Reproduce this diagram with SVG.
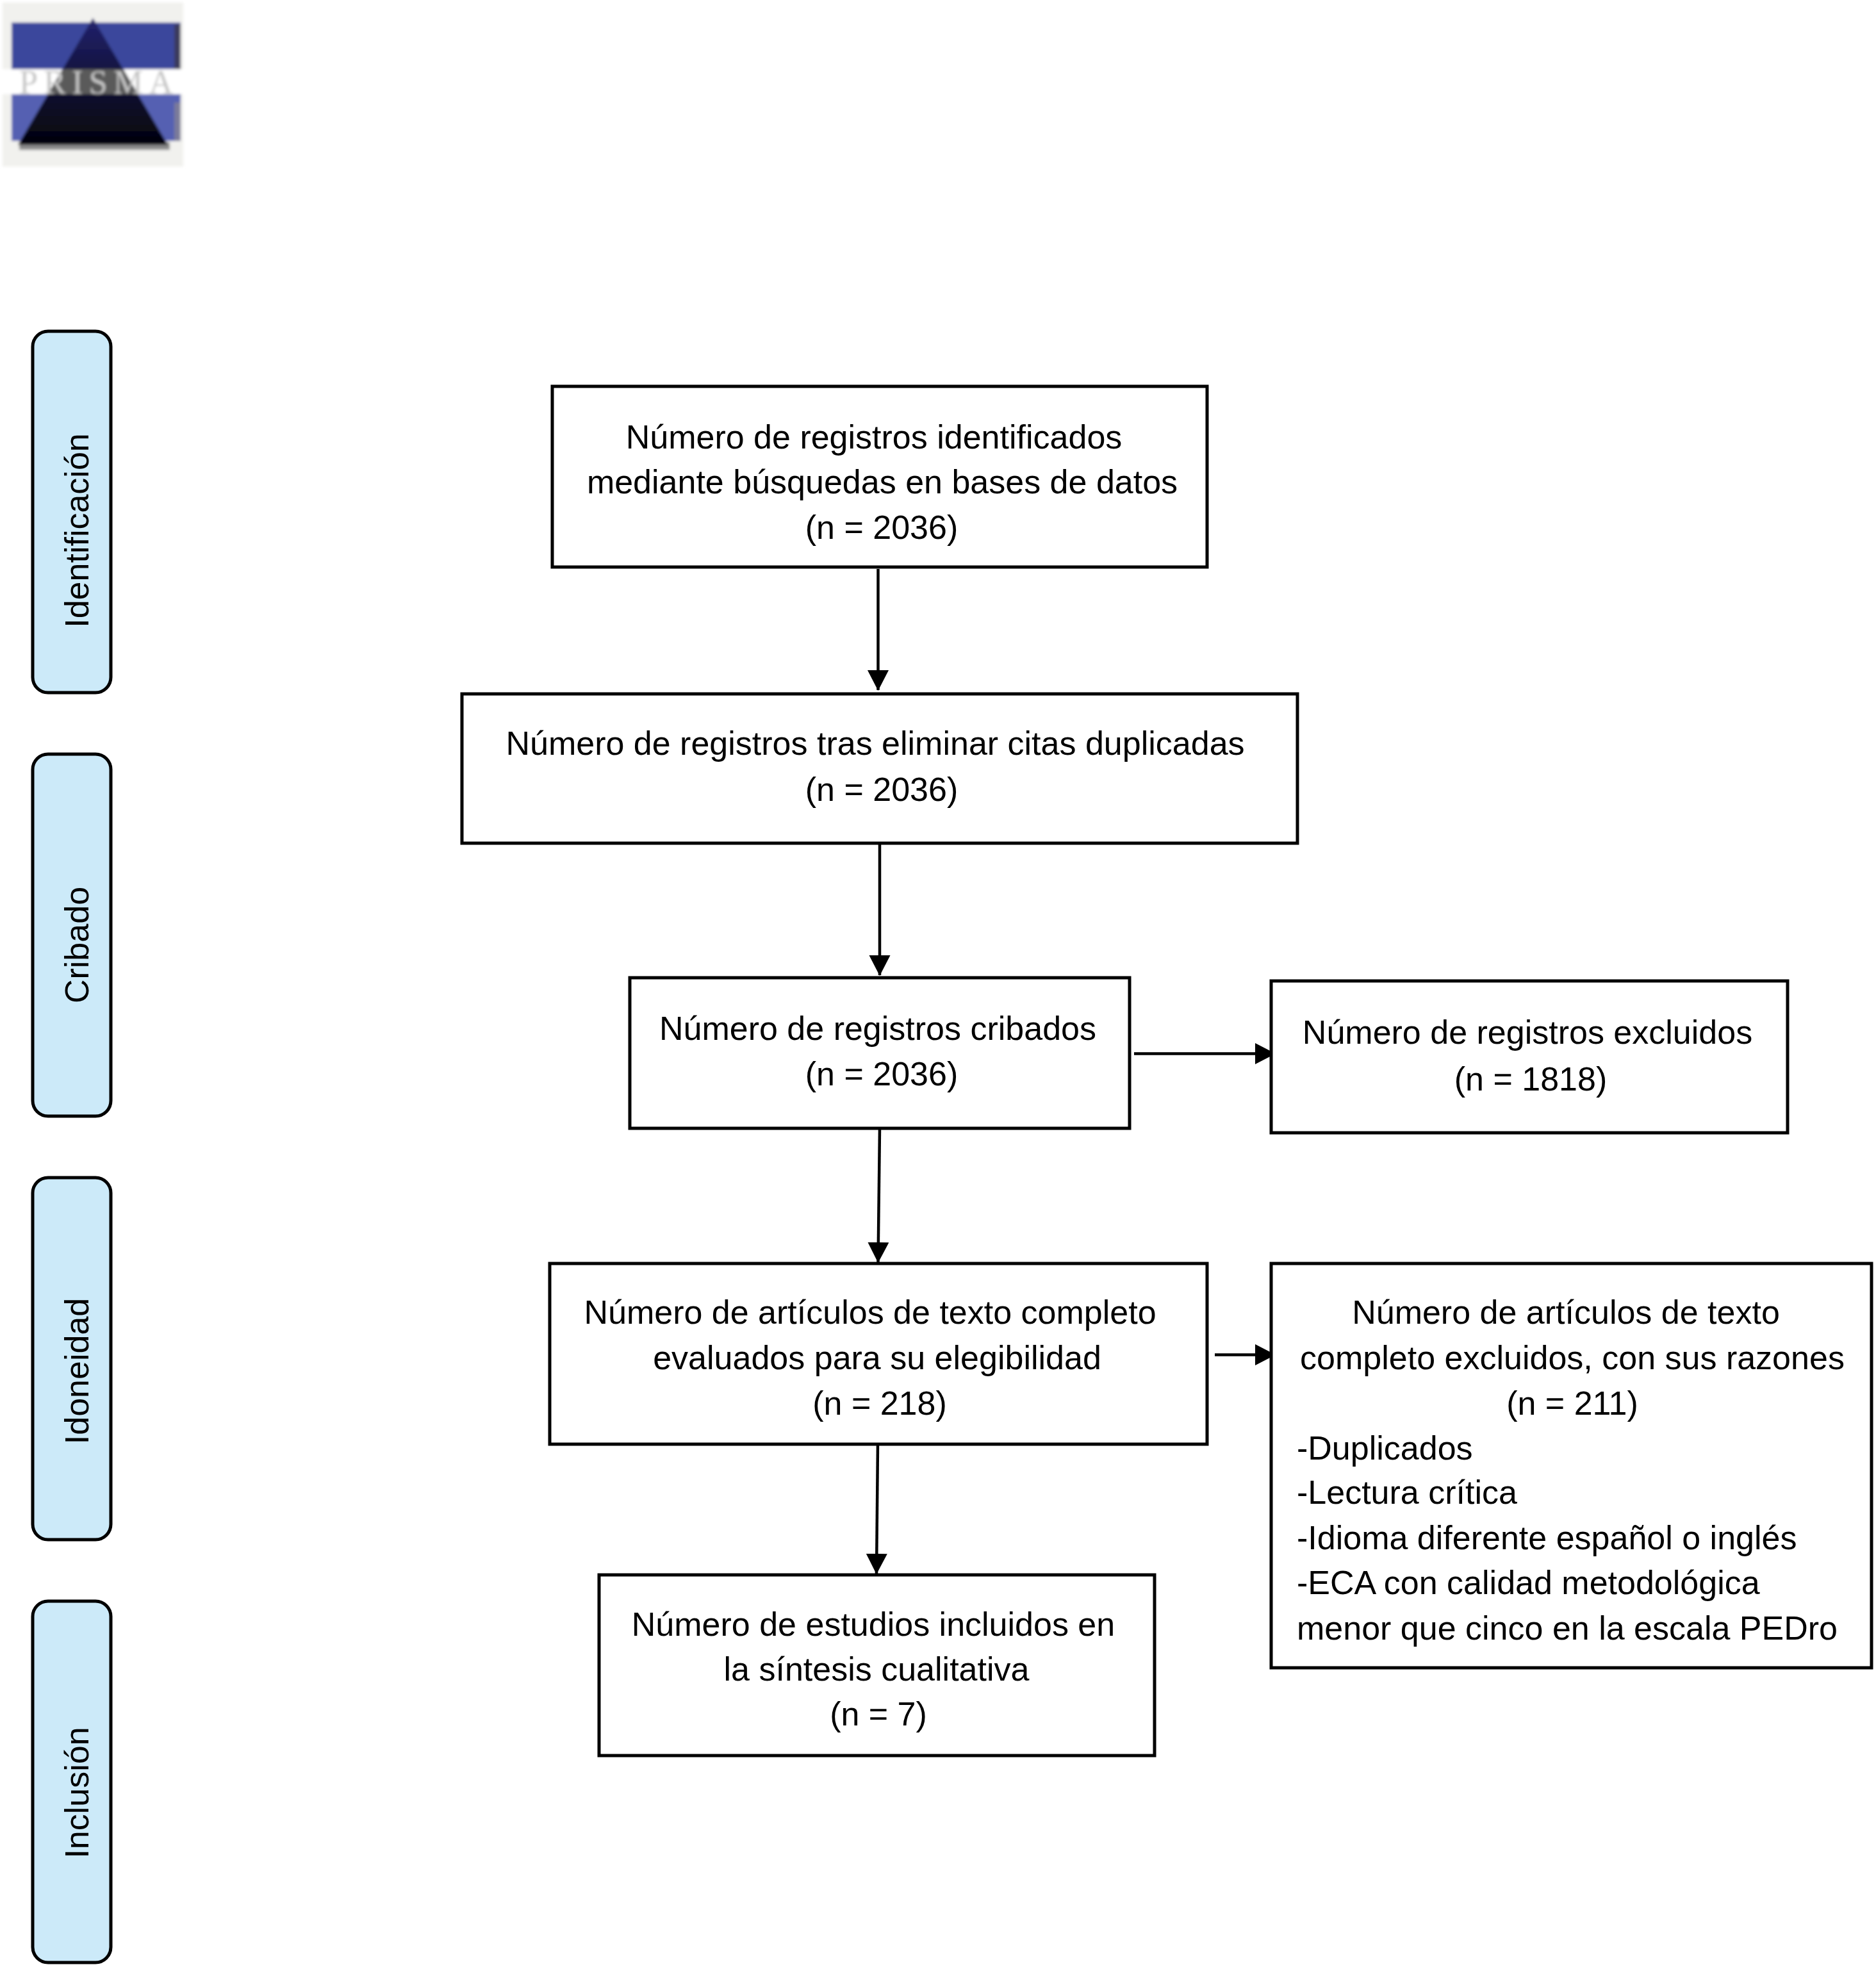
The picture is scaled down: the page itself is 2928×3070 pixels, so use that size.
<svg xmlns="http://www.w3.org/2000/svg" width="2928" height="3070" viewBox="0 0 2928 3070">
<style>
.box{fill:#fff;stroke:#000;stroke-width:5}
.side{fill:#cceaf9;stroke:#000;stroke-width:5}
text{font-family:"Liberation Sans",Arial,sans-serif;fill:#000}
.t{font-size:52px;text-anchor:middle}
.l{font-size:52px}
.s{font-size:52px;text-anchor:middle}
.c{stroke:#000;stroke-width:4.5;fill:none;marker-end:url(#a)}
</style>
<defs>
<marker id="a" markerUnits="userSpaceOnUse" markerWidth="32" markerHeight="34" refX="31" refY="16.5" orient="auto"><path d="M0 0L32 16.5L0 33Z" fill="#000"/></marker>
<linearGradient id="tri" x1="0" y1="0" x2="0" y2="1"><stop offset="0" stop-color="#23236e"/><stop offset="0.45" stop-color="#12123c"/><stop offset="1" stop-color="#04040c"/></linearGradient>
<filter id="b" x="-5%" y="-5%" width="110%" height="110%"><feGaussianBlur stdDeviation="2"/></filter>
<clipPath id="band"><rect x="4" y="108" width="282" height="39"/></clipPath>
</defs>
<rect width="2928" height="3070" fill="#fff"/>
<g id="logo" filter="url(#b)">
<rect x="4" y="4" width="282" height="256" fill="#f1f1ee"/>
<rect x="18" y="35" width="264" height="75" fill="#3b479c"/>
<rect x="272" y="38" width="10" height="72" fill="#3a3a5c"/>
<rect x="4" y="108" width="282" height="39" fill="#fff"/>
<rect x="18" y="147" width="264" height="73" fill="#5560b2"/>
<rect x="272" y="160" width="10" height="60" fill="#7a7a9a"/>
<rect x="30" y="222" width="235" height="12" fill="#8a8a8a"/>
<path d="M145 28L262 226H28Z" fill="url(#tri)"/>
<path d="M145 28L262 226H28Z" fill="#5a5a5a" clip-path="url(#band)"/>
<text x="150" y="146" font-size="52" text-anchor="middle" textLength="240" lengthAdjust="spacing" style="font-family:'Liberation Serif',serif;fill:#c4c4c4">PRISMA</text>
</g>
<g id="sidebars">
<g id="side-identificacion"><rect class="side" x="51" y="517" width="122" height="564" rx="24"/><text class="s" transform="translate(138 828) rotate(-90)">Identificación</text></g>
<g id="side-cribado"><rect class="side" x="51" y="1177" width="122" height="565" rx="24"/><text class="s" transform="translate(138 1475) rotate(-90)">Cribado</text></g>
<g id="side-idoneidad"><rect class="side" x="51" y="1838" width="122" height="565" rx="24"/><text class="s" transform="translate(138 2140) rotate(-90)">Idoneidad</text></g>
<g id="side-inclusion"><rect class="side" x="51" y="2499" width="122" height="564" rx="24"/><text class="s" transform="translate(138 2798) rotate(-90)">Inclusión</text></g>
</g>
<g id="connectors">
<path class="c" d="M1370.5 888V1077"/>
<path class="c" d="M1373 1316V1522"/>
<path class="c" d="M1373 1761L1370.5 1970"/>
<path class="c" d="M1770 1644.5H1990"/>
<path class="c" d="M1896 2114.5H1990"/>
<path class="c" d="M1370 2254L1368 2456"/>
</g>
<g id="n1"><rect class="box" x="862" y="603" width="1022" height="282"/>
<text class="t" x="1364" y="700">Número de registros identificados</text><text class="t" x="1377" y="770">mediante búsquedas en bases de datos</text><text class="t" x="1376" y="841">(n = 2036)</text></g>
<g id="n2"><rect class="box" x="721" y="1083" width="1304" height="233"/>
<text class="t" x="1366" y="1178">Número de registros tras eliminar citas duplicadas</text><text class="t" x="1376" y="1250">(n = 2036)</text></g>
<g id="n3"><rect class="box" x="983" y="1526" width="780" height="235"/>
<text class="t" x="1370" y="1623">Número de registros cribados</text><text class="t" x="1376" y="1694">(n = 2036)</text></g>
<g id="n4"><rect class="box" x="1984" y="1531" width="806" height="237"/>
<text class="t" x="2384" y="1629">Número de registros excluidos</text><text class="t" x="2389" y="1702">(n = 1818)</text></g>
<g id="n5"><rect class="box" x="858" y="1972" width="1026" height="282"/>
<text class="t" x="1358" y="2066">Número de artículos de texto completo</text><text class="t" x="1369" y="2137">evaluados para su elegibilidad</text><text class="t" x="1373" y="2208">(n = 218)</text></g>
<g id="n6"><rect class="box" x="1984" y="1972" width="937" height="631"/>
<text class="t" x="2444" y="2066">Número de artículos de texto</text><text class="t" x="2454" y="2137">completo excluidos, con sus razones</text><text class="t" x="2454" y="2208">(n = 211)</text>
<text class="l" x="2024" y="2278">-Duplicados</text><text class="l" x="2024" y="2347">-Lectura crítica</text><text class="l" x="2024" y="2418">-Idioma diferente español o inglés</text><text class="l" x="2024" y="2488">-ECA con calidad metodológica</text><text class="l" x="2024" y="2559">menor que cinco en la escala PEDro</text></g>
<g id="n7"><rect class="box" x="935" y="2458" width="867" height="282"/>
<text class="t" x="1363" y="2553">Número de estudios incluidos en</text><text class="t" x="1368" y="2623">la síntesis cualitativa</text><text class="t" x="1371" y="2693">(n = 7)</text></g>
</svg>
